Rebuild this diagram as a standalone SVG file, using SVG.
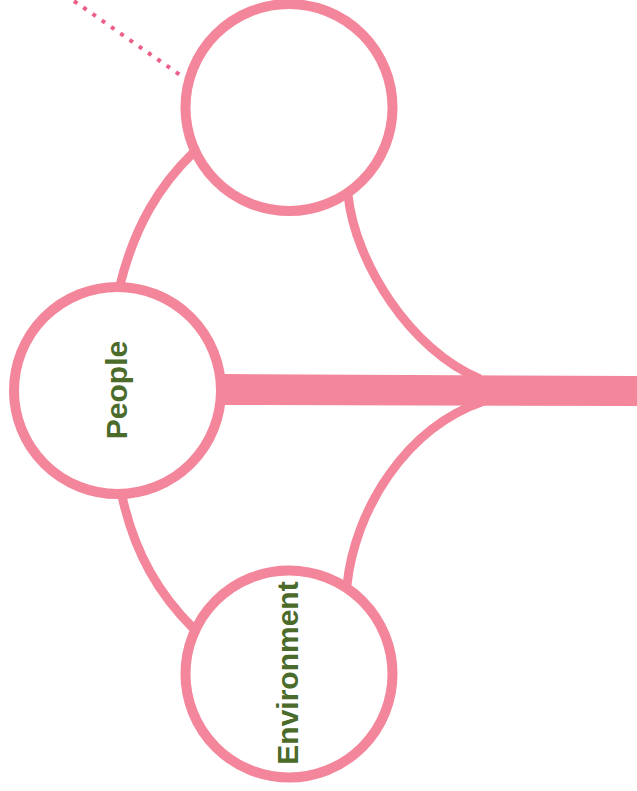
<svg xmlns="http://www.w3.org/2000/svg" width="637" height="791" viewBox="0 0 637 791">
<style>
.node{fill:#ffffff;stroke:#f3869b;stroke-width:10}
.link{fill:none;stroke:#f3869b;stroke-width:9}
.label{font-family:"Liberation Sans",Arial,sans-serif;font-weight:bold;font-size:30px;fill:#4b6b2b;text-anchor:middle}
.dots{fill:none;stroke:#ec5f88;stroke-width:4;stroke-dasharray:4 7.3}
</style>
<rect width="637" height="791" fill="#ffffff"/>
<g id="connectors">
<line class="dots" x1="74" y1="1" x2="180" y2="75"/>
<polygon points="222,374 637,376 637,406 222,405" fill="#f3869b"/>
<path class="link" d="M348,195 C355,262 410,350 480,379"/>
<path class="link" d="M347,585 C355,510 405,428 484,401"/>
<path class="link" d="M120,285 C135,225 160,185 193,153"/>
<path class="link" d="M122,496 C135,555 160,595 193,628"/>
</g>
<g id="node-top">
<circle class="node" cx="289" cy="107.5" r="103.5"/>
</g>
<g id="node-people">
<circle class="node" cx="117.5" cy="390.5" r="103.5"/>
<text class="label" transform="translate(127,390) rotate(-90)">People</text>
</g>
<g id="node-environment">
<circle class="node" cx="289" cy="674" r="103.5"/>
<text class="label" transform="translate(298,673) rotate(-90)">Environment</text>
</g>
</svg>
